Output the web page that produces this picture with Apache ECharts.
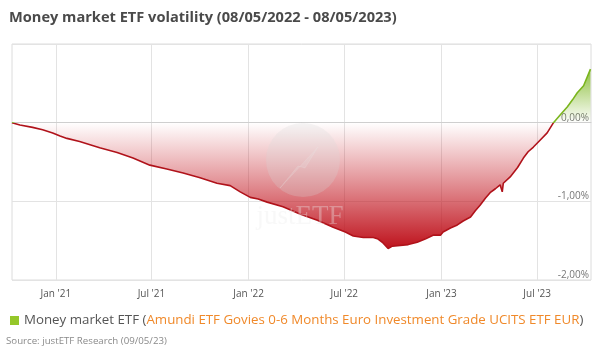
<!DOCTYPE html>
<html>
<head>
<meta charset="utf-8">
<script src="https://cdn.jsdelivr.net/npm/echarts@6/dist/echarts.min.js"></script>
<style>
html,body{margin:0;padding:0;background:#fff;}
#chart{width:600px;height:362px;}
</style>
</head>
<body>
<div id="chart"></div>
<script>
// ---- data ----
var titleText = "Money market ETF volatility (08/05/2022 - 08/05/2023)";
var seriesName = "Money market ETF";
var fundName = "Amundi ETF Govies 0-6 Months Euro Investment Grade UCITS ETF EUR";
var sourceText = "Source: justETF Research (09/05/23)";
var axisStart = "2020-10-10";
var axisEnd = "2023-10-11";
var xTickDates = ["2021-01-01","2021-07-01","2022-01-01","2022-07-01","2023-01-01","2023-07-01"];
var yTicks = [-2, -1, 0, 1];
var dates = [
 "2020-10-10","2020-10-25","2020-11-18","2020-12-07","2020-12-26","2021-01-09","2021-01-22","2021-02-15",
 "2021-03-25","2021-04-27","2021-05-27","2021-06-28","2021-07-30","2021-08-30","2021-10-01","2021-11-02",
 "2021-11-27","2021-12-16","2022-01-04","2022-01-19","2022-02-05","2022-03-07","2022-04-08","2022-05-11",
 "2022-06-10","2022-07-03","2022-07-18","2022-08-06","2022-08-25","2022-09-03","2022-09-11","2022-09-18",
 "2022-09-22","2022-09-30","2022-10-15","2022-10-30","2022-11-16","2022-12-01","2022-12-16","2022-12-30",
 "2023-01-04","2023-01-18","2023-01-31","2023-02-11","2023-02-25","2023-03-06","2023-03-15","2023-03-25",
 "2023-04-03","2023-04-13","2023-04-22","2023-04-26","2023-04-28","2023-05-11","2023-05-25","2023-06-05",
 "2023-06-14","2023-06-24","2023-07-07","2023-07-20","2023-08-01","2023-08-14","2023-08-27","2023-09-06",
 "2023-09-15","2023-09-27","2023-10-10"
];
var values = [
 0.00,-0.03,-0.06,-0.09,-0.13,-0.17,-0.20,-0.24,
 -0.32,-0.38,-0.45,-0.54,-0.59,-0.64,-0.70,-0.77,
 -0.80,-0.88,-0.95,-0.97,-1.01,-1.07,-1.16,-1.24,
 -1.33,-1.39,-1.44,-1.46,-1.46,-1.48,-1.52,-1.57,
 -1.60,-1.57,-1.56,-1.55,-1.52,-1.48,-1.43,-1.43,
 -1.39,-1.34,-1.30,-1.25,-1.20,-1.12,-1.05,-0.96,
 -0.89,-0.84,-0.79,-0.88,-0.77,-0.69,-0.57,-0.45,
 -0.37,-0.31,-0.22,-0.13,0.00,0.10,0.20,0.29,
 0.38,0.47,0.68
];

function ts(d) { return Date.UTC(+d.slice(0,4), +d.slice(5,7) - 1, +d.slice(8,10)); }
var seriesData = dates.map(function (d, i) { return [ts(d), values[i]]; });
var monthNames = ["Jan","Feb","Mar","Apr","May","Jun","Jul","Aug","Sep","Oct","Nov","Dec"];
var tickTimes = xTickDates.map(ts);

var chart = echarts.init(document.getElementById('chart'));
var FONT = "'Open Sans', sans-serif";

function buildOption(grad) {
  return {
    animation: false,
    backgroundColor: '#ffffff',
    textStyle: { fontFamily: FONT },
    title: {
      text: titleText, left: 4, top: 5,
      textStyle: { fontFamily: FONT, fontSize: 14.6, fontWeight: 'bold', color: '#4a4a4a' }
    },
    grid: { left: 12, right: 9, top: 44, bottom: 82, show: true, borderColor: '#dcdcdc', borderWidth: 1 },
    legend: {
      left: 5, top: 309, itemWidth: 9, itemHeight: 9, icon: 'rect', itemGap: 6,
      data: [{ name: seriesName, itemStyle: { color: '#95c72a' } }],
      formatter: function (n) { return '{a|' + n + ' (}{b|' + fundName + '}{a|)}'; },
      textStyle: {
        rich: {
          a: { fontFamily: FONT, fontSize: 13.3, color: '#555555' },
          b: { fontFamily: FONT, fontSize: 13.3, color: '#f0892a' }
        }
      }
    },
    graphic: [
      { type: 'text', left: 6, top: 336, z: 10,
        style: { text: sourceText, fontFamily: FONT, fontSize: 9.7, fill: '#8a8a8a' } },
      { type: 'circle', shape: { cx: 303, cy: 160, r: 37 }, z: 10, silent: true,
        style: { fill: 'rgba(215,215,215,0.25)' } },
      { type: 'polyline', shape: { points: [[280,188],[318,147],[305,168],[298,166],[280,188]] }, z: 10, silent: true,
        style: { fill: 'rgba(235,235,235,0.18)', stroke: 'rgba(235,235,235,0.18)' } },
      { type: 'text', x: 300, y: 217, z: 10, silent: true,
        style: { text: 'justETF', fontFamily: "'Liberation Serif', serif", fontSize: 27, fill: 'rgba(235,235,235,0.35)',
                 align: 'center', verticalAlign: 'middle' } }
    ],
    xAxis: {
      type: 'value', min: ts(axisStart), max: ts(axisEnd),
      axisLine: { show: true, lineStyle: { color: '#cfcfcf' } },
      axisTick: { show: false, customValues: tickTimes },
      splitLine: { show: true, lineStyle: { color: '#e3e3e3' } },
      axisLabel: {
        customValues: tickTimes, color: '#555', fontSize: 10, margin: 9, fontFamily: FONT,
        formatter: function (v) {
          var d = new Date(v);
          return monthNames[d.getUTCMonth()] + " '" + String(d.getUTCFullYear()).slice(2);
        }
      }
    },
    yAxis: {
      type: 'value', position: 'right', min: yTicks[0], max: yTicks[yTicks.length - 1], interval: 1,
      axisLine: { show: false }, axisTick: { show: false },
      splitLine: { show: true, lineStyle: { color: ['#e3e3e3', '#e3e3e3', '#b8b8b8', '#e3e3e3'] } },
      axisLabel: {
        inside: true, verticalAlign: 'bottom', margin: 2, color: '#777', fontSize: 10, fontFamily: FONT,
        formatter: function (v) { return v >= 1 ? '' : v.toFixed(2).replace('.', ',') + '%'; }
      }
    },
    series: [{
      name: seriesName, type: 'line', data: seriesData, showSymbol: false, symbol: 'none',
      itemStyle: { color: '#95c72a' },
      lineStyle: { width: 1.6, color: grad ? grad.line : '#b5121b' },
      areaStyle: { origin: 0, color: grad ? grad.area : 'rgba(200,20,30,0.4)', opacity: 1 },
      z: 2
    }]
  };
}

chart.setOption(buildOption(null));
var yMaxPx = chart.convertToPixel({ yAxisIndex: 0 }, Math.max.apply(null, values));
var yMinPx = chart.convertToPixel({ yAxisIndex: 0 }, Math.min.apply(null, values));
var yZeroPx = chart.convertToPixel({ yAxisIndex: 0 }, 0);
var z = (yZeroPx - yMaxPx) / (yMinPx - yMaxPx);
var lineGrad = new echarts.graphic.LinearGradient(0, yMaxPx, 0, yMinPx, [
  { offset: 0, color: '#7ab51d' }, { offset: z, color: '#7ab51d' },
  { offset: z, color: '#b0121a' }, { offset: 1, color: '#b0121a' }
], true);
var areaGrad = new echarts.graphic.LinearGradient(0, yMaxPx, 0, yMinPx, [
  { offset: 0, color: 'rgba(122,181,29,0.85)' }, { offset: z, color: 'rgba(122,181,29,0.0)' },
  { offset: z, color: 'rgba(200,30,40,0.0)' }, { offset: 1, color: 'rgba(190,18,28,1)' }
], true);
chart.setOption(buildOption({ line: lineGrad, area: areaGrad }), true);
</script>
</body>
</html>
